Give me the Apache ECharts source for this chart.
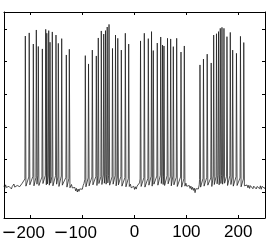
<!DOCTYPE html>
<html><head><meta charset="utf-8">
<script src="https://cdn.jsdelivr.net/npm/echarts@6/dist/echarts.min.js"></script>
<style>html,body{margin:0;padding:0;background:#fff}#c{width:267px;height:242px}</style>
</head><body><div id="c"></div>
<script>
const xTicks = [-200, -100, 0, 100, 200];
const yTicks = [-60, -40, -20, 0, 20, 40];

// quiet stretches between bursts: [time, value]
const quiet1 = [[-251.5,-56.0],[-250,-57.6],[-248.4,-55.4],[-246.8,-57.0],[-245.2,-55.9],[-243.6,-58.1],[-242,-56.3],[-240.4,-57.2],[-238.8,-55.2],[-237.2,-57.9],[-235.6,-56.4],[-234,-57.5],[-232.4,-54.9],[-230.8,-56.8],[-229.2,-55.6],[-227.6,-57.7],[-226,-55.8],[-224.4,-56.9],[-222.8,-54.8],[-221.2,-56.5],[-219.6,-55.3],[-218,-56.6],[-216.4,-54.4],[-214.8,-55.5],[-213.2,-53.9]];
const quiet2 = [[-123,-56.6],[-121.4,-55.2],[-119.8,-57.3],[-118.2,-56.1],[-116.6,-58.4],[-115,-57.0],[-113.4,-59.1],[-111.8,-57.6],[-110.2,-59.8],[-108.6,-58.0],[-107,-59.4],[-105.4,-57.9],[-103.8,-59.0],[-102.2,-57.2],[-100.6,-58.1],[-99,-55.9],[-97.4,-54.6]];
const quiet3 = [[-9.5,-56.4],[-7.9,-55.0],[-6.3,-57.2],[-4.7,-56.0],[-3.1,-57.8],[-1.5,-56.3],[0.1,-58.2],[1.7,-56.6],[3.3,-58.0],[4.9,-56.2],[6.5,-57.4],[8.1,-55.3],[9.7,-54.2]];
const quiet4 = [[97.5,-55.6],[99.1,-54.4],[100.7,-56.3],[102.3,-55.1],[103.9,-57.0],[105.5,-55.8],[107.1,-57.6],[108.7,-56.2],[110.3,-58.3],[111.9,-56.9],[113.5,-58.8],[115.1,-57.4],[116.7,-60.2],[118.3,-57.8],[119.9,-59.0],[121.5,-57.1],[123.1,-57.9],[124.7,-55.4]];
const quiet5 = [[212.2,-56.4],[213.8,-54.8],[215.4,-56.9],[217,-55.5],[218.6,-57.2],[220.2,-55.7],[221.8,-57.6],[223.4,-55.9],[225,-57.0],[226.6,-55.3],[228.2,-57.8],[229.8,-56.2],[231.4,-57.3],[233,-55.6],[234.6,-57.9],[236.2,-56.4],[237.8,-57.5],[239.4,-55.8],[241,-57.7],[242.6,-56.0],[244.2,-58.1],[245.8,-56.3],[247.4,-57.4],[249,-55.9],[250.6,-57.6],[251.5,-56.8]];

// burst 1
const times1 = [-210.4,-202.9,-195.0,-189.2,-185.4,-177.6,-171.1,-169.0,-165.3,-162.8,-158.4,-151.3,-146.8,-140.3,-131.4,-125.6];
const peaks1 = [35.7,37.6,30.8,39.4,29.3,27.8,39.8,37.4,39.0,31.9,38.2,36.3,31.2,34.1,24.1,27.6];
const feet1  = [-51.8,-50.6,-50.2,-51.0,-49.8,-50.6,-49.6,-49.4,-50.0,-49.4,-50.2,-49.8,-50.6,-50.0,-50.8,-51.4];
const ahp1   = [-56.2,-55.4,-56.0,-55.0,-55.8,-54.6,-55.4,-54.8,-55.6,-54.4,-56.0,-55.0,-56.4,-55.6,-56.8,-57.2];
// burst 2
const times2 = [-94.8,-88.6,-81.3,-73.6,-69.8,-64.0,-59.3,-55.9,-52.6,-49.1,-42.4,-36.6,-32.2,-25.4,-17.7,-11.2];
const peaks2 = [23.7,18.6,27.1,23.5,34.5,38.8,36.9,39.0,41.2,42.8,28.1,36.3,34.3,27.1,37.4,30.8];
const feet2  = [-52.0,-51.2,-50.6,-50.2,-49.8,-50.4,-49.4,-50.0,-49.2,-49.6,-50.4,-49.8,-50.6,-50.2,-51.0,-51.6];
const ahp2   = [-56.6,-56.0,-55.4,-55.8,-54.6,-55.2,-54.4,-55.0,-54.2,-55.6,-55.0,-56.0,-55.4,-56.2,-56.6,-56.4];
// burst 3
const times3 = [11.6,18.9,26.6,32.8,36.2,43.9,50.5,54.0,56.8,63.6,69.7,74.8,81.3,89.6,96.0];
const peaks3 = [32.7,37.4,34.1,38.4,26.8,31.4,35.1,30.2,29.6,34.3,33.9,29.2,34.3,25.9,29.6];
const feet3  = [-51.8,-51.0,-51.4,-50.2,-50.8,-50.0,-49.6,-49.4,-50.2,-49.8,-50.4,-50.0,-50.8,-50.6,-51.6];
const ahp3   = [-56.4,-56.8,-55.6,-56.2,-55.0,-55.6,-54.6,-55.2,-55.8,-54.8,-56.0,-55.4,-56.4,-56.8,-56.2];
// burst 4
const times4 = [126.2,132.9,140.1,147.8,152.6,158.0,161.9,165.3,168.6,172.4,178.2,184.6,189.2,196.5,204.2,210.6];
const peaks4 = [18.0,21.6,24.6,19.2,36.3,37.1,38.4,40.4,41.0,40.4,35.3,37.9,27.1,25.1,35.5,31.7];
const feet4  = [-52.2,-51.4,-50.8,-51.2,-50.0,-50.4,-49.6,-49.2,-49.8,-49.4,-50.2,-49.8,-50.6,-50.4,-51.2,-51.8];
const ahp4   = [-56.8,-56.2,-55.6,-56.4,-55.2,-54.8,-55.4,-54.6,-55.0,-54.4,-55.8,-55.2,-56.2,-55.8,-56.6,-56.0];

function burst(times, peaks, feet, ahp) {
  const out = [];
  for (let i = 0; i < times.length; i++) {
    out.push([times[i] - 0.8, feet[i]], [times[i], peaks[i]], [times[i] + 1.2, ahp[i]]);
  }
  return out;
}
const trace = [].concat(
  quiet1, burst(times1, peaks1, feet1, ahp1),
  quiet2, burst(times2, peaks2, feet2, ahp2),
  quiet3, burst(times3, peaks3, feet3, ahp3),
  quiet4, burst(times4, peaks4, feet4, ahp4),
  quiet5
);

const line = { show: true, onZero: false, lineStyle: { color: '#000', width: 1 } };
const xLabel = {
  customValues: xTicks, margin: 6, color: '#000',
  formatter: v => v < 0 ? '{m|\u2212}{n|' + Math.abs(v) + '}' : '{d|' + v + '}',
  rich: {
    m: { fontFamily: 'DejaVu Sans', fontSize: 18, color: '#000' },
    n: { fontFamily: 'Liberation Sans', fontSize: 17, color: '#000', padding: [0, 15, 0, 0] },
    d: { fontFamily: 'Liberation Sans', fontSize: 17, color: '#000' }
  }
};
const chart = echarts.init(document.getElementById('c'));
chart.setOption({
  animation: false,
  backgroundColor: '#fff',
  grid: { left: 4, right: 2, top: 12, bottom: 24, containLabel: false, outerBoundsMode: 'none' },
  xAxis: [
    { type: 'value', min: -251.5, max: 251.5, position: 'bottom', axisLine: line,
      axisTick: { show: true, inside: true, length: 3, customValues: xTicks, lineStyle: { color: '#000' } },
      axisLabel: xLabel, splitLine: { show: false } },
    { type: 'value', min: -251.5, max: 251.5, position: 'top', axisLine: line,
      axisTick: { show: true, inside: true, length: 3, customValues: xTicks, lineStyle: { color: '#000' } },
      axisLabel: { show: false }, splitLine: { show: false } }
  ],
  yAxis: [
    { type: 'value', min: -75.7, max: 50.4, position: 'left', axisLine: line,
      axisTick: { show: true, inside: true, length: 3, customValues: yTicks, lineStyle: { color: '#000' } },
      axisLabel: { show: false }, splitLine: { show: false } },
    { type: 'value', min: -75.7, max: 50.4, position: 'right', axisLine: line,
      axisTick: { show: true, inside: true, length: 3, customValues: yTicks, lineStyle: { color: '#000' } },
      axisLabel: { show: false }, splitLine: { show: false } }
  ],
  series: [{
    type: 'line', data: trace, xAxisIndex: 0, yAxisIndex: 0,
    showSymbol: false, symbol: 'none',
    lineStyle: { color: '#1a1a1a', width: 0.75 }
  }]
});
</script></body></html>
